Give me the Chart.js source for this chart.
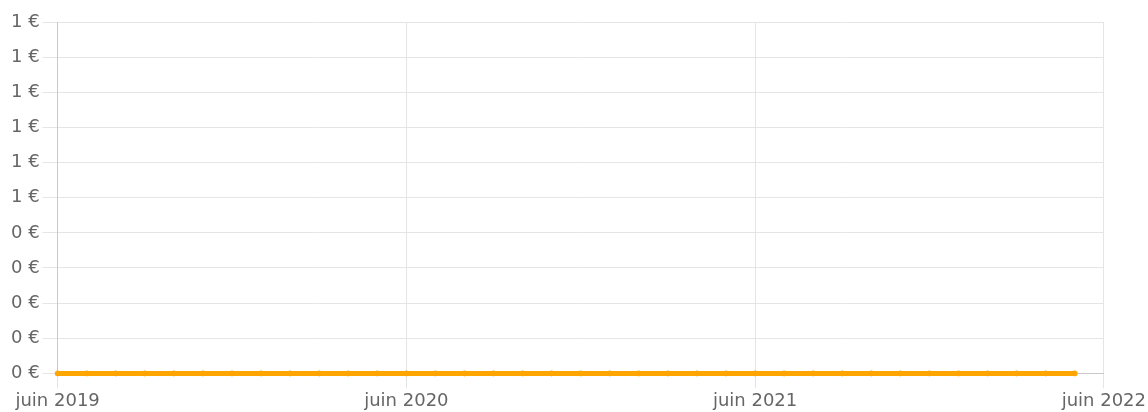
<!DOCTYPE html>
<html>
<head>
<meta charset="utf-8">
<script src="https://cdn.jsdelivr.net/npm/chart.js@4"></script>
<style>
  html, body { margin: 0; padding: 0; background: #fff; }
  #wrap { width: 1148px; height: 412px; }
</style>
</head>
<body>
<div id="wrap"><canvas id="balance"></canvas></div>
<script>
// months from juin 2019 to mai 2022
const months = [
  '2019-06','2019-07','2019-08','2019-09','2019-10','2019-11','2019-12',
  '2020-01','2020-02','2020-03','2020-04','2020-05','2020-06','2020-07','2020-08','2020-09','2020-10','2020-11','2020-12',
  '2021-01','2021-02','2021-03','2021-04','2021-05','2021-06','2021-07','2021-08','2021-09','2021-10','2021-11','2021-12',
  '2022-01','2022-02','2022-03','2022-04','2022-05'
];
const amounts = [0,0,0,0,0,0,0, 0,0,0,0,0,0,0,0,0,0,0,0, 0,0,0,0,0,0,0,0,0,0,0,0, 0,0,0,0,0];
const yTicks = [0, 0.1, 0.2, 0.3, 0.4, 0.5, 0.6, 0.7, 0.8, 0.9, 1];
const xTickLabels = ['juin 2019', 'juin 2020', 'juin 2021', 'juin 2022'];

// month offset from juin 2019
function monthIndex(s) {
  const [y, m] = s.split('-').map(Number);
  return (y - 2019) * 12 + (m - 6);
}

const euro = new Intl.NumberFormat('fr-FR', { style: 'currency', currency: 'EUR', maximumFractionDigits: 0, minimumFractionDigits: 0 });

Chart.defaults.font.family = 'DejaVu Sans';
Chart.defaults.font.size = 18;
Chart.defaults.color = '#666';

const ctx = document.getElementById('balance').getContext('2d');
const chart = new Chart(ctx, {
  type: 'line',
  data: {
    datasets: [{
      data: months.map((m, i) => ({ x: monthIndex(m), y: amounts[i] })),
      borderColor: '#FFA500',
      backgroundColor: '#FFA500',
      borderWidth: 5,
      pointRadius: 2.5,
      pointBorderWidth: 1,
      pointHoverRadius: 4,
      tension: 0,
      fill: false,
      clip: false
    }]
  },
  options: {
    responsive: true,
    maintainAspectRatio: false,
    animation: false,
    layout: { padding: { top: 22, right: 5, bottom: -2, left: 8 } },
    plugins: { legend: { display: false }, tooltip: { enabled: false } },
    scales: {
      x: {
        type: 'linear',
        min: 0,
        max: 36,
        grid: { color: '#e5e5e5', tickLength: 15 },
        border: { color: '#c8c8c8' },
        afterBuildTicks: (axis) => { axis.ticks = xTickLabels.map((l, i) => ({ value: i * 12 })); },
        ticks: {
          padding: 2,
          maxRotation: 0,
          callback: (v) => xTickLabels[v / 12]
        }
      },
      y: {
        min: 0,
        max: 1,
        grid: { color: '#e5e5e5', tickLength: 15 },
        border: { color: '#c8c8c8' },
        afterBuildTicks: (axis) => { axis.ticks = yTicks.map(v => ({ value: v })); },
        ticks: {
          padding: 3,
          callback: (v) => euro.format(v)
        }
      }
    }
  }
});
</script>
</body>
</html>
